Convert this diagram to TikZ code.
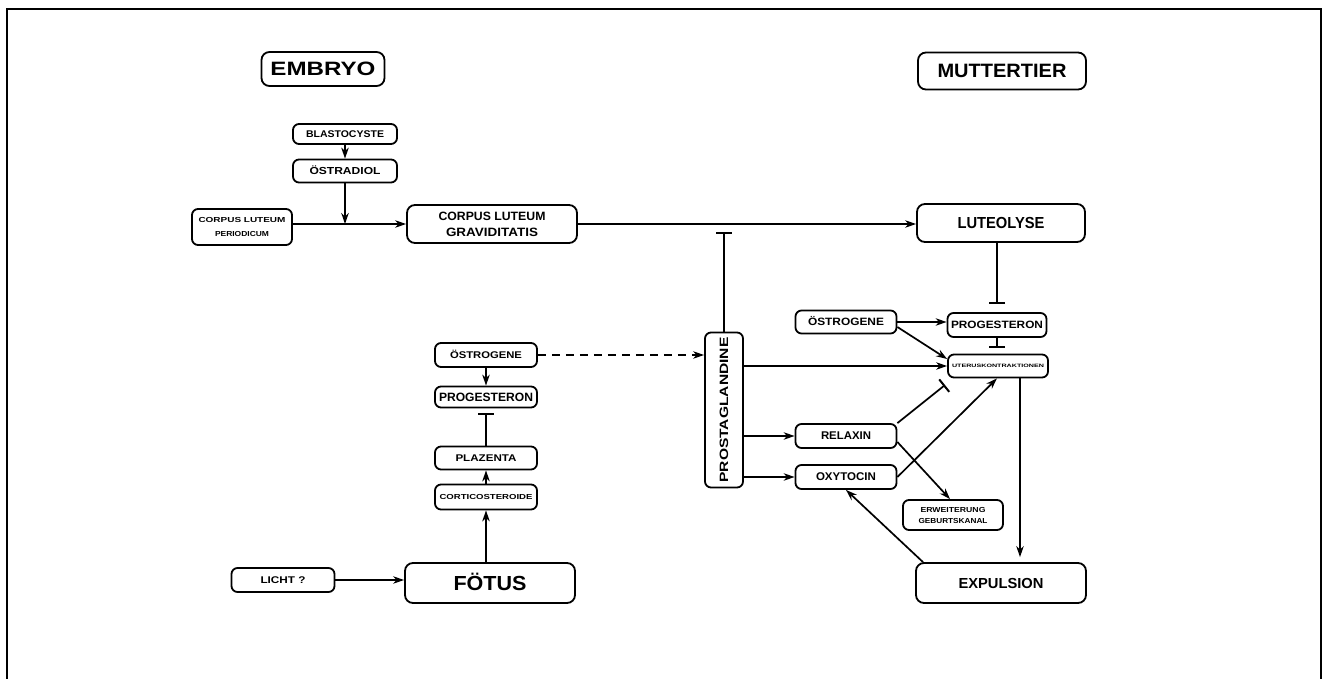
\documentclass[tikz,border=0pt]{standalone}
\usepackage{fontspec}
\setmainfont{Liberation Sans}
\usepackage{graphicx}
\usetikzlibrary{arrows.meta}
\newcommand\tx[3]{\resizebox{#1pt}{#2pt}{\setbox0\hbox{\bfseries #3}\ht0=\fontcharht\font`X\dp0=0pt\box0}}
\tikzset{
  box/.style={draw, line width=1.8pt, rounded corners=6pt, inner sep=0pt, align=center},
  sz/.style 2 args={minimum width=#1pt, minimum height=#2pt},
  arr/.style={line width=1.7pt, -{Stealth[length=11pt,width=7.5pt]}},
  inh/.style={line width=1.7pt, -{Bar[width=16pt,line width=2pt]}},
  dsh/.style={dash pattern=on 8pt off 6pt}
}
\begin{document}
\begin{tikzpicture}[x=1pt,y=-1pt]
\useasboundingbox (0,0) rectangle (1328,679);
\draw[line width=1.5pt] (7,679) -- (7,9) -- (1321,9) -- (1321,679);

% headers
\node[box,sz={123}{34},rounded corners=8pt] (embryo) at (323,69) {\tx{105}{13.3}{EMBRYO}};
\node[box,sz={168}{37},rounded corners=8pt] (mutter) at (1002,71) {\tx{129}{13.3}{MUTTERTIER}};

% embryo side
\node[box,sz={104}{20}] (blast) at (345,134) {\tx{78}{6.7}{BLASTOCYSTE}};
\node[box,sz={104}{23}] (ostr) at (345,171) {\tx{71}{7}{ÖSTRADIOL}};
\node[box,sz={100}{36},font=\fontsize{8}{14}\selectfont] (clp) at (242,227) {\tx{87}{5}{CORPUS LUTEUM}\\\tx{54}{5}{PERIODICUM}};
\node[box,sz={170}{38},rounded corners=8pt,font=\fontsize{8}{16}\selectfont] (clg) at (492,224) {\tx{107}{8.3}{CORPUS LUTEUM}\\\tx{92}{8.3}{GRAVIDITATIS}};
\node[box,sz={168}{38},rounded corners=8pt] (lut) at (1001,223) {\tx{87}{11}{LUTEOLYSE}};

\node[box,sz={38}{155}] (prost) at (724,410) {\rotatebox{90}{\tx{145}{8.3}{PROSTAGLANDINE}}};

\node[box,sz={102}{24}] (ostL) at (486,355) {\tx{72}{6.7}{ÖSTROGENE}};
\node[box,sz={102}{21}] (progL) at (486,397) {\tx{94}{8.3}{PROGESTERON}};
\node[box,sz={102}{23}] (plaz) at (486,458) {\tx{61}{6.7}{PLAZENTA}};
\node[box,sz={102}{25}] (cort) at (486,497) {\tx{93}{5}{CORTICOSTEROIDE}};
\node[box,sz={170}{40},rounded corners=8pt] (fotus) at (490,583) {\tx{73}{14}{FÖTUS}};
\node[box,sz={103}{24}] (licht) at (283,580) {\tx{45}{6.7}{LICHT ?}};

% mother side
\node[box,sz={101}{23}] (ostR) at (846,322) {\tx{76}{7.3}{ÖSTROGENE}};
\node[box,sz={99}{24}] (progR) at (997,325) {\tx{92}{7.3}{PROGESTERON}};
\node[box,sz={100}{23}] (uter) at (998,366) {\tx{92}{3.3}{UTERUSKONTRAKTIONEN}};
\node[box,sz={101}{24}] (relax) at (846,436) {\tx{50}{7.7}{RELAXIN}};
\node[box,sz={101}{24}] (oxy) at (846,477) {\tx{60}{7.7}{OXYTOCIN}};
\node[box,sz={100}{30},font=\fontsize{6}{11}\selectfont] (erw) at (953,515) {\tx{65}{5}{ERWEITERUNG}\\\tx{69}{5}{GEBURTSKANAL}};
\node[box,sz={170}{40},rounded corners=8pt] (exp) at (1001,583) {\tx{85}{10}{EXPULSION}};

% connectors, embryo side
\coordinate (J) at (ostr.south |- clg.west);
\draw[arr] (blast) -- (ostr);
\draw[arr] (ostr.south) -- (J);
\draw[arr] (clp.east |- clg.west) -- (clg.west);
\draw[arr] (clg.east) -- (clg.east -| lut.west);
\coordinate (pb) at (724,232);
\draw[inh] (prost.north) -- (pb);
\draw[arr,dsh] (ostL.east) -- (ostL.east -| prost.west);
\draw[arr] (ostL) -- (progL);
\draw[inh,shorten >=5pt] (plaz.north) -- (progL.south);
\draw[arr] (cort) -- (plaz);
\draw[arr] (cort.south |- fotus.north) -- (cort.south);
\draw[arr] (licht.east) -- (licht.east -| fotus.west);

% connectors, mother side
\draw[inh,shorten >=8pt] (progR.north |- lut.south) -- (progR.north);
\draw[inh,shorten >=6pt] (progR.south) -- (progR.south |- uter.north);
\draw[arr] (ostR.east) -- (ostR.east -| progR.west);
\draw[arr] ([yshift=-5pt]ostR.east) -- ([yshift=7pt]uter.west);
\draw[arr] (prost.east |- uter.west) -- (uter.west);
\draw[arr] (prost.east |- relax.west) -- (relax.west);
\draw[arr] (prost.east |- oxy.west) -- (oxy.west);
\coordinate (rb) at (945,385);
\draw[inh] (relax.north east) -- (rb);
\draw[arr] (oxy.east) -- ([xshift=-1pt]uter.south);
\draw[arr] ([yshift=-6pt]relax.east) -- ([xshift=-3pt]erw.north);
\draw[arr,shorten >=5pt] ([xshift=22pt]uter.south) -- ([xshift=22pt]uter.south |- exp.north);
\draw[arr] ([xshift=-78pt]exp.north) -- (oxy.south);
\end{tikzpicture}
\end{document}
